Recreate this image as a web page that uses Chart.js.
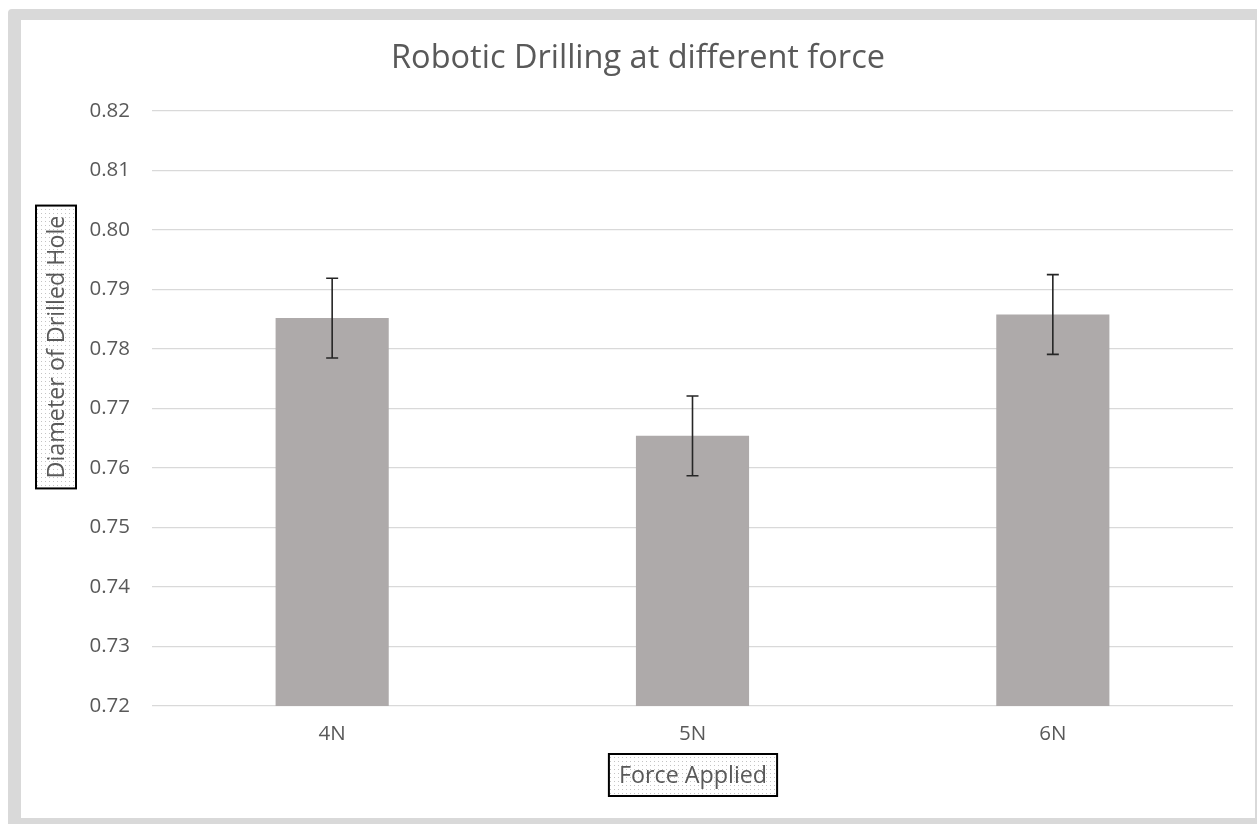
<!DOCTYPE html>
<html>
<head>
<meta charset="utf-8">
<script src="https://cdn.jsdelivr.net/npm/chart.js@4"></script>
<style>
    html, body { margin: 0; padding: 0; background: #fff; overflow: hidden; width: 1257px; height: 824px; }
    #frame {
        position: absolute; left: 8px; top: 9px;
        width: 1234px; height: 798px;
        border: 12px solid #d9d9d9; border-left-width: 13px; border-top-width: 11px;
        border-radius: 4px; background: #fff;
    }
    #chart { display: block; }
</style>
</head>
<body>
<div id="frame"><canvas id="chart" width="1234" height="798"></canvas></div>
<script>
// chart data
const categories = ['4N', '5N', '6N'];
const diameters = [0.7852, 0.7654, 0.7858];
const errors = [0.0067, 0.0067, 0.0067];
const yMin = 0.72;
const yMax = 0.82;
const yStep = 0.01;

const chartTitle = 'Robotic Drilling at different force';
const xTitle = 'Force Applied';
const yTitle = 'Diameter of Drilled Hole';

const textColor = '#595959';
const fontFamily = '"Open Sans", "Noto Sans", sans-serif';

// dotted fill used behind the axis titles
function dotPattern(ctx) {
    const p = document.createElement('canvas');
    p.width = 4; p.height = 4;
    const pc = p.getContext('2d');
    pc.fillStyle = '#fff';
    pc.fillRect(0, 0, 4, 4);
    pc.fillStyle = '#c4c4c4';
    pc.fillRect(1, 1, 1, 1);
    return ctx.createPattern(p, 'repeat');
}

// axis titles with a boxed, dotted background
const boxedTitles = {
    id: 'boxedTitles',
    afterDraw(chart) {
        const ctx = chart.ctx;
        const pattern = dotPattern(ctx);
        ctx.save();
        ctx.font = '23.3px ' + fontFamily;
        ctx.textAlign = 'center';
        ctx.textBaseline = 'middle';

        // x title
        let w = ctx.measureText(xTitle).width + 20;
        let h = 42;
        let cx = 672, cy = 755;
        ctx.fillStyle = pattern;
        ctx.fillRect(cx - w / 2, cy - h / 2, w, h);
        ctx.strokeStyle = '#000';
        ctx.lineWidth = 2;
        ctx.strokeRect(cx - w / 2, cy - h / 2, w, h);
        ctx.fillStyle = textColor;
        ctx.fillText(xTitle, cx, cy + 1);

        // y title, rotated
        w = ctx.measureText(yTitle).width + 20;
        h = 40;
        cx = 35; cy = 327;
        ctx.translate(cx, cy);
        ctx.rotate(-Math.PI / 2);
        ctx.fillStyle = pattern;
        ctx.fillRect(-w / 2, -h / 2, w, h);
        ctx.strokeRect(-w / 2, -h / 2, w, h);
        ctx.fillStyle = textColor;
        ctx.fillText(yTitle, 0, 1);
        ctx.restore();
    }
};

const errorBars = {
    id: 'errorBars',
    afterDatasetsDraw(chart) {
        const ctx = chart.ctx;
        const y = chart.scales.y;
        const meta = chart.getDatasetMeta(0);
        ctx.save();
        ctx.strokeStyle = '#262626';
        ctx.lineWidth = 1.6;
        meta.data.forEach((bar, i) => {
            const top = y.getPixelForValue(diameters[i] + errors[i]);
            const bottom = y.getPixelForValue(diameters[i] - errors[i]);
            ctx.beginPath();
            ctx.moveTo(bar.x, top);
            ctx.lineTo(bar.x, bottom);
            ctx.moveTo(bar.x - 6, top);
            ctx.lineTo(bar.x + 6, top);
            ctx.moveTo(bar.x - 6, bottom);
            ctx.lineTo(bar.x + 6, bottom);
            ctx.stroke();
        });
        ctx.restore();
    }
};

new Chart(document.getElementById('chart'), {
    type: 'bar',
    data: {
        labels: categories,
        datasets: [{
            data: diameters,
            backgroundColor: '#aeaaaa',
            borderWidth: 0,
            barPercentage: 0.314,
            categoryPercentage: 1
        }]
    },
    options: {
        responsive: false,
        animation: false,
        layout: { padding: { left: 22, right: 22, top: 0, bottom: 0 } },
        plugins: {
            legend: { display: false },
            tooltip: { enabled: false },
            title: {
                display: true,
                text: chartTitle,
                color: textColor,
                font: { family: fontFamily, size: 32.5, weight: 'normal', lineHeight: 1.2 },
                padding: { top: 19, bottom: 33 }
            }
        },
        scales: {
            x: {
                grid: { display: false, drawTicks: false },
                border: { display: false },
                ticks: {
                    color: textColor,
                    font: { family: fontFamily, size: 20.5 },
                    padding: 16
                },
                afterFit(scale) { scale.height = 112; }
            },
            y: {
                min: yMin,
                max: yMax,
                grid: { color: '#d9d9d9', lineWidth: 1.3, drawTicks: false },
                border: { display: false },
                ticks: {
                    stepSize: yStep,
                    color: textColor,
                    font: { family: fontFamily, size: 20.5 },
                    padding: 22,
                    callback: v => v.toFixed(2)
                },
                afterFit(scale) { scale.width = 109; }
            }
        }
    },
    plugins: [errorBars, boxedTitles]
});
</script>
</body>
</html>
